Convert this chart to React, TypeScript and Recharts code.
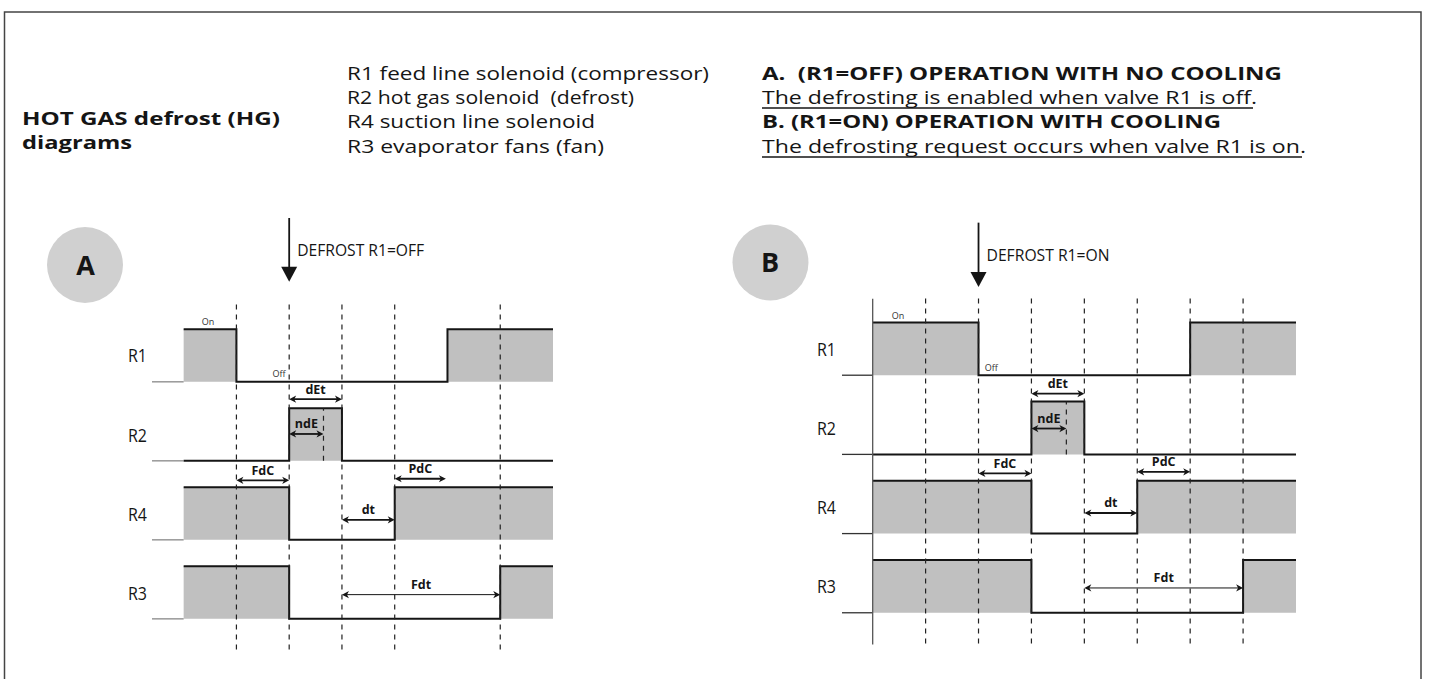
import React from 'react';
import { ComposedChart, Area, Line, XAxis, YAxis, ReferenceLine, ReferenceDot } from 'recharts';

document.body.style.margin = '0';

const FONT = "'Open Sans', 'DejaVu Sans', sans-serif";
const FILL = '#c0c0c0';
const INK = '#151515';

// rows from bottom to top, each row is one relay
const rowNames = ['R3', 'R4', 'R2', 'R1'];
const rowBase = [0, 1.5, 3, 4.5];

// panel A: R1 already off when defrost starts
const timeA = [0, 1, 2, 3, 4, 5, 6, 7];
const r1A = [1, 0, 0, 0, 0, 1, 1, 1];
const r2A = [0, 0, 1, 0, 0, 0, 0, 0];
const r4A = [1, 1, 0, 0, 1, 1, 1, 1];
const r3A = [1, 1, 0, 0, 0, 0, 1, 1];
const dashedA = [1, 2, 3, 4, 6];

// panel B: R1 on when defrost is requested
const timeB = [0, 1, 2, 3, 4, 5, 6, 7, 8];
const r1B = [1, 1, 0, 0, 0, 0, 1, 1, 1];
const r2B = [0, 0, 0, 1, 0, 0, 0, 0, 0];
const r4B = [1, 1, 1, 0, 0, 1, 1, 1, 1];
const r3B = [1, 1, 1, 0, 0, 0, 0, 1, 1];
const dashedB = [1, 2, 3, 4, 5, 6, 7];

// timing intervals [from, to] on the time axis
const dimsA = [
  { name: 'dEt', from: 2, to: 3, y: 4.17, thin: false },
  { name: 'ndE', from: 2, to: 2.65, y: 3.51, thin: false },
  { name: 'FdC', from: 1, to: 2, y: 2.63, thin: false },
  { name: 'PdC', from: 4, to: 4.97, y: 2.66, thin: false },
  { name: 'dt', from: 3, to: 4, y: 1.88, thin: false },
  { name: 'Fdt', from: 3, to: 6, y: 0.46, thin: true },
];
const dimsB = [
  { name: 'dEt', from: 3, to: 4, y: 4.15, thin: false },
  { name: 'ndE', from: 3, to: 3.66, y: 3.49, thin: false },
  { name: 'FdC', from: 2, to: 3, y: 2.64, thin: false },
  { name: 'PdC', from: 5, to: 6, y: 2.67, thin: false },
  { name: 'dt', from: 4, to: 5, y: 1.89, thin: false },
  { name: 'Fdt', from: 4, to: 7, y: 0.47, thin: true },
];

const headerLeft = [
  'R1 feed line solenoid (compressor)',
  'R2 hot gas solenoid  (defrost)',
  'R4 suction line solenoid',
  'R3 evaporator fans (fan)',
];
const headerLeftW = [362, 287, 248, 257];
const headerRight = [
  { t: 'A.  (R1=OFF) OPERATION WITH NO COOLING', bold: true, u: false, w: 520 },
  { t: 'The defrosting is enabled when valve R1 is off.', bold: false, u: true, w: 495 },
  { t: 'B. (R1=ON) OPERATION WITH COOLING', bold: true, u: false, w: 459 },
  { t: 'The defrosting request occurs when valve R1 is on.', bold: false, u: true, w: 544 },
];
const lineY = [73, 97, 121, 146];

function buildRows(time: number[], levels: number[][]) {
  // levels given in order R1, R2, R4, R3
  const byName: Record<string, number[]> = { R1: levels[0], R2: levels[1], R4: levels[2], R3: levels[3] };
  return time.map((t, i) => {
    const row: any = { t };
    rowNames.forEach((n, k) => {
      const b = rowBase[k];
      const v = byName[n][i];
      row[n] = [b, b + v];
      row[n + 'L'] = b + v;
    });
    return row;
  });
}

const dataA = buildRows(timeA, [r1A, r2A, r4A, r3A]);
const dataB = buildRows(timeB, [r1B, r2B, r4B, r3B]);

function DimArrow(p: any) {
  const { x1, y1, x2, text, thin } = p;
  const w = thin ? 1 : 1.8;
  const h = 3.6;
  const L = 7;
  return (
    <g>
      <line x1={x1 + 3} y1={y1} x2={x2 - 3} y2={y1} stroke={INK} strokeWidth={w} />
      <polygon points={`${x1},${y1} ${x1 + L},${y1 - h} ${x1 + L - 2},${y1} ${x1 + L},${y1 + h}`} fill={INK} />
      <polygon points={`${x2},${y1} ${x2 - L},${y1 - h} ${x2 - L + 2},${y1} ${x2 - L},${y1 + h}`} fill={INK} />
      <text x={(x1 + x2) / 2} y={y1 - 10} textAnchor="middle" dominantBaseline="central"
        fontSize={12.5} fontWeight="bold" fontFamily={FONT} fill={INK}>{text}</text>
    </g>
  );
}

function DefrostArrow(p: any) {
  const { x1, y1, y2, text, textW } = p;
  return (
    <g>
      <line x1={x1} y1={y1} x2={x1} y2={y2 - 10} stroke={INK} strokeWidth={1.8} />
      <polygon points={`${x1 - 8},${y2 - 15} ${x1 + 8},${y2 - 15} ${x1},${y2}`} fill={INK} />
      <text x={x1 + 8} y={(y1 + y2) / 2} dominantBaseline="central" fontSize={17} fontFamily={FONT}
        fill={INK} textLength={textW} lengthAdjust="spacingAndGlyphs">{text}</text>
    </g>
  );
}

function SmallText(p: any) {
  return (
    <text x={p.cx} y={p.cy} textAnchor={p.anchor} dominantBaseline="central" fontSize={9}
      fontFamily={FONT} fill="#333">{p.text}</text>
  );
}

function RowTick(p: any) {
  const k = rowBase.indexOf(Math.round((p.payload.value - 0.5) * 10) / 10);
  return (
    <text x={p.x} y={p.y} textAnchor="end" dominantBaseline="central" fontSize={19}
      fontFamily={FONT} fill={INK} textLength={19} lengthAdjust="spacingAndGlyphs">{rowNames[k]}</text>
  );
}

type PanelProps = {
  data: any[];
  xDomain: [number, number];
  dashed: number[];
  dims: typeof dimsA;
  width: number;
  height: number;
  left: number;
  top: number;
  tickGap: number;
  stub: string;
  axis: boolean;
  defrostAt: number;
  defrostY: [number, number];
  defrostText: string;
  defrostW: number;
  onAt: number;
  offAt: number;
  offAnchor: string;
  innerDash: number;
};

function Panel(P: PanelProps) {
  const ticks = rowBase.map((b) => b + 0.5);
  return (
    <div style={{ position: 'absolute', left: P.left, top: P.top }}>
      <ComposedChart width={P.width} height={P.height} data={P.data}
        margin={{ top: 0, right: 0, bottom: 0, left: 0 }}>
        <XAxis dataKey="t" type="number" domain={P.xDomain} hide allowDataOverflow />
        <YAxis type="number" domain={[-0.8, 7.8]} ticks={ticks} width={60} axisLine={false}
          tickLine={false} tickSize={0} tickMargin={P.tickGap} tick={<RowTick />} allowDataOverflow />
        {rowNames.map((n) => (
          <Area key={n} dataKey={n} type="stepAfter" fill={FILL} fillOpacity={1} stroke="none"
            isAnimationActive={false} />
        ))}
        {rowBase.map((b, k) => (
          <ReferenceLine key={'stub' + k} segment={[{ x: P.xDomain[0], y: b }, { x: 0, y: b }]}
            stroke={P.stub} strokeWidth={1.3} />
        ))}
        {rowNames.map((n) => (
          <Line key={n + 'L'} dataKey={n + 'L'} type="stepAfter" stroke={INK} strokeWidth={2}
            dot={false} isAnimationActive={false} />
        ))}
        {P.axis && (
          <ReferenceLine segment={[{ x: 0, y: -0.6 }, { x: 0, y: 5.95 }]} stroke="#555" strokeWidth={1.3} />
        )}
        {P.dashed.map((t) => (
          <ReferenceLine key={'d' + t} segment={[{ x: t, y: -0.58 }, { x: t, y: 6.0 }]}
            stroke="#222" strokeWidth={1.2} strokeDasharray="5 5" />
        ))}
        <ReferenceLine segment={[{ x: P.innerDash, y: 3 }, { x: P.innerDash, y: 4 }]}
          stroke="#222" strokeWidth={1.2} strokeDasharray="5 5" />
        {P.dims.map((d) => (
          <ReferenceLine key={d.name} segment={[{ x: d.from, y: d.y }, { x: d.to, y: d.y }]}
            shape={(s: any) => <DimArrow {...s} text={d.name} thin={d.thin} />} />
        ))}
        <ReferenceLine segment={[{ x: P.defrostAt, y: P.defrostY[0] }, { x: P.defrostAt, y: P.defrostY[1] }]}
          shape={(s: any) => <DefrostArrow {...s} text={P.defrostText} textW={P.defrostW} />} />
        <ReferenceDot x={P.onAt} y={5.64} r={1}
          shape={(s: any) => <SmallText {...s} text="On" anchor="middle" />} />
        <ReferenceDot x={P.offAt} y={4.65} r={1}
          shape={(s: any) => <SmallText {...s} text="Off" anchor={P.offAnchor} />} />
      </ComposedChart>
    </div>
  );
}

export default function App() {
  return (
    <div style={{ position: 'relative', width: 1429, height: 679, background: '#fff', overflow: 'hidden', fontFamily: FONT }}>
      <svg width={1429} height={679} style={{ position: 'absolute', left: 0, top: 0 }}>
        <rect x={4.5} y={12} width={1416.5} height={700} fill="none" stroke="#444" strokeWidth={1.5} />
        <text x={22} y={118} dominantBaseline="central" fontSize={17.5} fontWeight="bold" fill={INK}
          textLength={258} lengthAdjust="spacingAndGlyphs">HOT GAS defrost (HG)</text>
        <text x={22} y={142} dominantBaseline="central" fontSize={17.5} fontWeight="bold" fill={INK}
          textLength={110} lengthAdjust="spacingAndGlyphs">diagrams</text>
        {headerLeft.map((t, i) => (
          <text key={t} x={347} y={lineY[i]} dominantBaseline="central" fontSize={17.5} fill={INK}
            style={{ whiteSpace: 'pre' }} textLength={headerLeftW[i]} lengthAdjust="spacingAndGlyphs">{t}</text>
        ))}
        {headerRight.map((h, i) => (
          <g key={h.t}>
            <text x={762} y={lineY[i]} dominantBaseline="central" fontSize={17.5}
              fontWeight={h.bold ? 'bold' : 'normal'} fill={INK} style={{ whiteSpace: 'pre' }}
              textLength={h.w} lengthAdjust="spacingAndGlyphs">{h.t}</text>
            {h.u && <line x1={762} x2={762 + h.w - 4} y1={lineY[i] + 11} y2={lineY[i] + 11} stroke={INK} strokeWidth={1.3} />}
          </g>
        ))}
        <circle cx={85} cy={265} r={38} fill="#d0d0d0" />
        <text x={85.5} y={264} textAnchor="middle" dominantBaseline="central" fontSize={27} fontWeight="bold" fill={INK}>A</text>
        <circle cx={770.5} cy={262.5} r={38} fill="#d0d0d0" />
        <text x={770} y={261} textAnchor="middle" dominantBaseline="central" fontSize={27} fontWeight="bold" fill={INK}>B</text>
      </svg>
      <Panel data={dataA} xDomain={[-0.6, 7]} dashed={dashedA} dims={dimsA}
        width={461} height={453} left={92} top={208} tickGap={5} stub="#888" axis={false}
        defrostAt={2} defrostY={[7.61, 6.4]} defrostText="DEFROST R1=OFF" defrostW={127}
        onAt={0.46} offAt={1.93} offAnchor="end" innerDash={2.65} />
      <Panel data={dataB} xDomain={[-0.58, 8]} dashed={dashedB} dims={dimsB}
        width={514} height={454} left={782} top={201} tickGap={6} stub="#333" axis={true}
        defrostAt={2} defrostY={[7.39, 6.17]} defrostText="DEFROST R1=ON" defrostW={123}
        onAt={0.48} offAt={2.12} offAnchor="start" innerDash={3.66} />
    </div>
  );
}
